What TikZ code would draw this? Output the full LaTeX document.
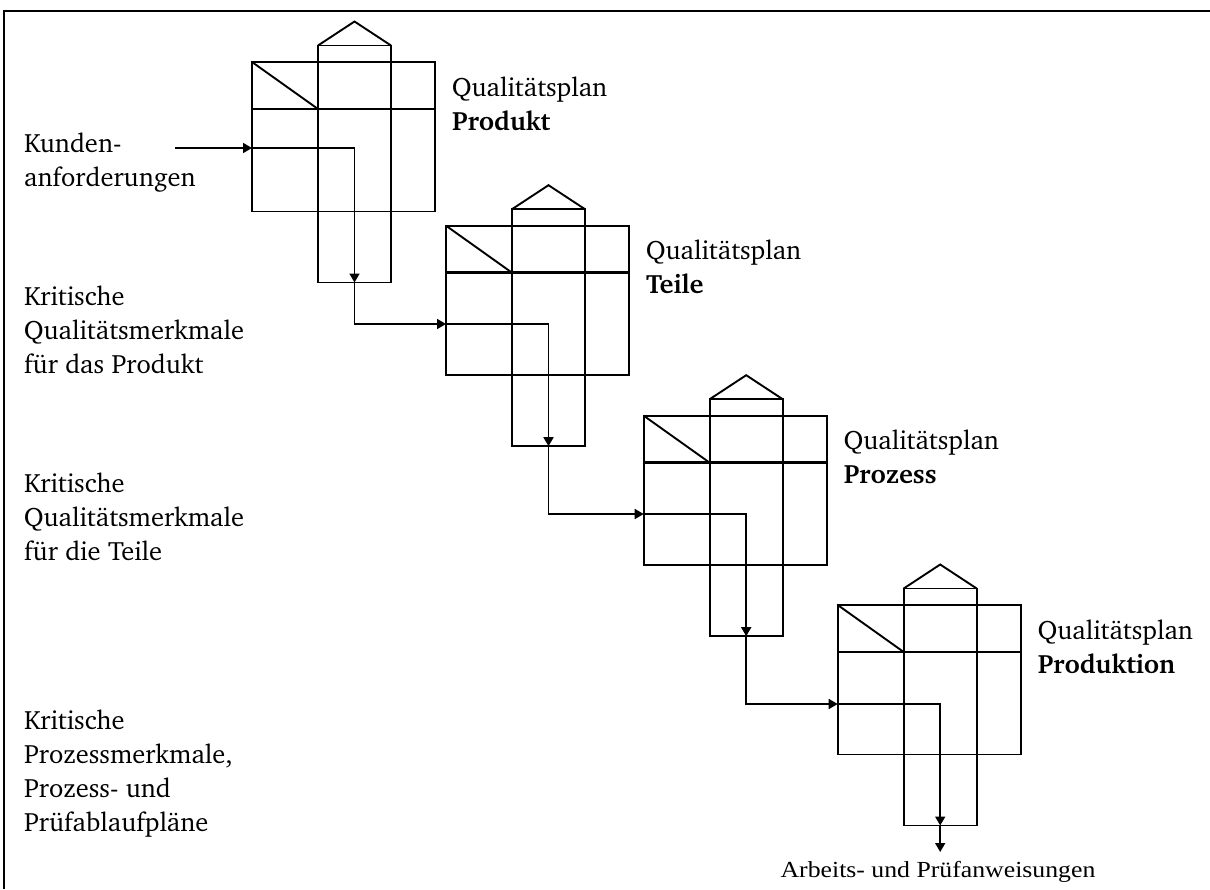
\documentclass[tikz,border=0pt]{standalone}
\usepackage{fontspec}
\usepackage[T1]{fontenc}
\usepackage{charter}
\newfontfamily\notefont{Liberation Serif}
\usetikzlibrary{arrows.meta}

\tikzset{
  box/.style={line width=1.9pt},
  sep/.style={line width=2.6pt},
  frame/.style={line width=2.5pt},
  flow/.style={line width=1.7pt},
  tip/.style={-{Triangle[length=9pt,width=10pt]}},
  lbl/.style={font=\fontsize{26.5}{34}\selectfont, inner sep=0pt, anchor=base west},
  note/.style={font=\notefont\fontsize{23}{26}\selectfont, inner sep=0pt, anchor=base},
}

% lines of a label, first baseline on the node's base
\newcommand\textlines[1]{\begin{tabular}[t]{@{}l@{}}#1\end{tabular}}

% one quality plan: name, left x, top y of the main block, entry height, title
\newcommand\qplan[5]{%
  \begin{scope}[shift={(#2,#3)}]
    \draw[box] (0,0) rectangle (183,149.5);
    \draw[box] (66,-16.5) rectangle (139,220.5);
    \draw[box] (66,-16.5) -- (102.5,-40.5) -- (139,-16.5);
    \draw[sep] (0,47) -- (183,47);
    \draw[box] (0,0) -- (66,47);
    \coordinate (#1-in) at (0,#4);
    \coordinate (#1-turn) at (102.5,#4);
    \coordinate (#1-out) at (102.5,220.5);
    \node[lbl] (#1-lbl) at (200,34) {\textlines{Qualit\"atsplan\\\textbf{#5}}};
  \end{scope}}

\begin{document}
\begin{tikzpicture}[x=1pt,y=-1pt]
  \useasboundingbox (0,0) rectangle (1210,889);
  \draw[frame] (4,889) -- (4,11) -- (1210,11);

  \qplan{prod}{252}{62}{86}{Produkt}
  \qplan{teile}{446}{225.7}{98.3}{Teile}
  \qplan{proz}{643.7}{415.7}{98.3}{Prozess}
  \qplan{fert}{837.7}{605}{99}{Produktion}

  % inputs and results on the left
  \node[lbl] (kunden) at (24,152) {\textlines{Kunden-\\anforderungen}};
  \node[lbl] (km1) at (24,305) {\textlines{Kritische\\Qualit\"atsmerkmale\\f\"ur das Produkt}};
  \node[lbl] (km2) at (24,492) {\textlines{Kritische\\Qualit\"atsmerkmale\\f\"ur die Teile}};
  \node[lbl] (km3) at (24,729) {\textlines{Kritische\\Prozessmerkmale,\\Prozess- und\\Pr\"ufablaufpl\"ane}};

  \coordinate (kstart) at (175,148);
  \coordinate (end) at (940.2,852);

  % flow through the four plans
  \draw[flow,tip] (kstart) -- (prod-in);
  \draw[flow,tip] (prod-in) -- (prod-turn) -- (prod-out);
  \draw[flow,tip] (prod-out) |- (teile-in);
  \draw[flow,tip] (teile-in) -- (teile-turn) -- (teile-out);
  \draw[flow,tip] (teile-out) |- (proz-in);
  \draw[flow,tip] (proz-in) -- (proz-turn) -- (proz-out);
  \draw[flow,tip] (proz-out) |- (fert-in);
  \draw[flow,tip] (fert-in) -- (fert-turn) -- (fert-out);
  \draw[flow,tip] (fert-out) -- (end);

  \node[note] (anw) at (938,877) {\scalebox{1.12}[1]{Arbeits- und Pr\"ufanweisungen}};
\end{tikzpicture}
\end{document}
